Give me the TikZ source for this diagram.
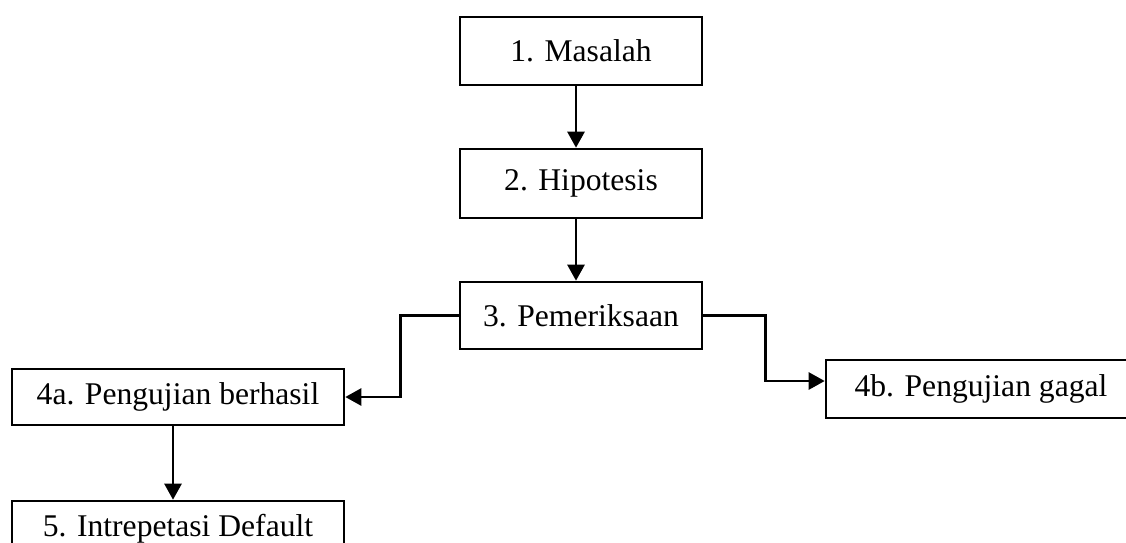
\documentclass[tikz,border=0pt]{standalone}
\usepackage{fontspec}
\setmainfont{Liberation Serif}
\usetikzlibrary{arrows.meta}
\begin{document}
\begin{tikzpicture}[x=1pt,y=-1pt,
  box/.style={draw, line width=2.6pt, rectangle, inner sep=0pt, align=center,
    font=\fontsize{31.6}{36}\selectfont},
  conn/.style={line width=2.6pt, -{Triangle[length=16pt,width=17pt]}}]
\useasboundingbox (0,0) rectangle (1126,542);
\node[box, minimum width=242pt, minimum height=68pt] (b1) at (581,51) {1. Masalah};
\node[box, minimum width=242pt, minimum height=69pt] (b2) at (581,183.5) {2. Hipotesis};
\node[box, minimum width=242pt, minimum height=67pt] (b3) at (581,315.5) {3. Pemeriksaan};
\node[box, minimum width=332pt, minimum height=56pt] (b4a) at (178,397) {4a. Pengujian berhasil};
\node[box, minimum width=310pt, minimum height=58pt] (b4b) at (981,389) {4b. Pengujian gagal};
\node[box, minimum width=332pt, minimum height=56pt] (b5) at (178,529) {5. Intrepetasi Default};
\draw[conn] ([xshift=-5pt]b1.south) -- ([xshift=-5pt]b2.north);
\draw[conn] ([xshift=-5pt]b2.south) -- ([xshift=-5pt]b3.north);
\draw[conn] (b3.west) -- ++(-58,0) |- (b4a.east);
\draw[conn] (b3.east) -- ++(62,0) |- ([yshift=8pt]b4b.west);
\draw[conn] ([xshift=-5pt]b4a.south) -- ([xshift=-5pt]b5.north);
\end{tikzpicture}
\end{document}
